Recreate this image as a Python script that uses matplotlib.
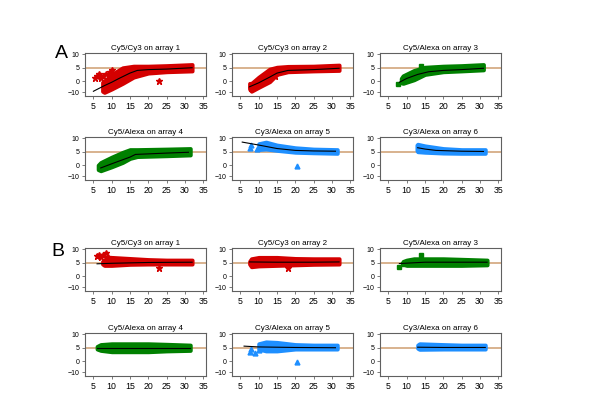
import numpy as np
import matplotlib
matplotlib.use("Agg")
import matplotlib.pyplot as plt

plt.rcParams['font.family'] = ['Liberation Sans', 'DejaVu Sans']

titles = ["Cy5/Cy3 on array 1", "Cy5/Cy3 on array 2", "Cy5/Alexa on array 3",
          "Cy5/Alexa on array 4", "Cy3/Alexa on array 5", "Cy3/Alexa on array 6"]
dye = ["red", "red", "green", "green", "blue", "blue"]
colors = {"red": "#d40000", "green": "#008000", "blue": "#1e8fff"}
markers = {"red": "*", "green": "s", "blue": "^"}

# ---- A: before normalisation ----
# band of points: x, lower edge, upper edge
A_band_x = [
    [7.5, 8, 10, 13, 16, 20, 25, 32],
    [7.5, 8, 10, 13, 15, 18, 25, 32],
    [8.5, 9, 12, 15, 20, 25, 31],
    [6.3, 7, 10, 13, 15, 17, 25, 31.5],
    [10, 12, 15, 20, 25, 31.5],
    [12.8, 13, 15, 20, 25, 31.5],
]
A_band_lo = [
    [-9, -10, -7, -2, 1.5, 3, 3.5, 3.8],
    [-7, -9, -5.5, -0.5, 2.5, 3.5, 3.8, 4],
    [-1.5, -2, 0.5, 2.5, 3.5, 3.8, 4.2],
    [-4, -5, -1.5, 1, 2.5, 3.2, 3.5, 3.8],
    [5.8, 6, 5.5, 4.8, 4.6, 4.4],
    [5.5, 5, 4.8, 4.5, 4.4, 4.4],
]
A_band_hi = [
    [-1, 0, 2.5, 5, 5.6, 5.6, 5.8, 6.2],
    [-2, -2, 1.5, 4.5, 5.2, 5.5, 5.6, 6],
    [1, 2, 4, 5.2, 5.6, 5.8, 6.2],
    [0, 1, 3, 4.8, 5.8, 5.8, 6, 6.2],
    [8, 8.6, 7.5, 6.5, 6, 5.8],
    [7.5, 7.8, 7.2, 6.2, 5.8, 5.8],
]
A_trend_x = [
    [5, 8, 10, 12, 15, 17, 20, 25, 32],
    [7.5, 10, 13, 15, 18, 25, 32],
    [8, 10, 13, 16, 20, 25, 31],
    [7, 10, 13, 15, 16.5, 20, 25, 31],
    [5.5, 10, 15, 20, 25, 31],
    [13, 15, 18, 25, 31],
]
A_trend_y = [
    [-9, -4, -1, 1, 3, 4, 4.3, 4.5, 5],
    [-5, -1.5, 1.5, 3, 4, 4.3, 4.8],
    [-1, 1, 2.5, 3.5, 4, 4.3, 4.8],
    [-2.5, 0.5, 2, 3, 4, 4.2, 4.5, 4.8],
    [8.6, 7.5, 6.2, 5.5, 5.3, 5.2],
    [6.5, 6, 5.5, 5.2, 5.1],
]
A_out_x = [
    [5.5, 6, 6.5, 7, 7.5, 8.5, 9.5, 10, 23],
    [8, 14.5],
    [7.5, 14],
    [],
    [7.5, 8, 9.5, 10, 20.5],
    [],
]
A_out_y = [
    [1, 1.8, 2.5, 1.2, 2, 2.5, 3.5, 4, 0.2],
    [-6, 2],
    [-2.5, 5.5],
    [],
    [6.5, 7.5, 6, 6.8, -1.2],
    [],
]

# ---- B: after normalisation ----
B_band_x = [
    [7.5, 8, 10, 15, 20, 25, 32],
    [7.5, 8, 10, 15, 20, 25, 32],
    [9, 10, 12, 20, 25, 32],
    [6, 7, 10, 20, 25, 31.5],
    [10, 12, 15, 20, 25, 31.5],
    [13, 13.5, 20, 25, 31.5],
]
B_band_lo = [
    [4.5, 4, 4, 4.4, 4.5, 4.5, 4.5],
    [4.5, 3.5, 3.8, 4, 4.2, 4.4, 4.5],
    [4.5, 4, 4, 4, 4, 4.2],
    [4.5, 4, 3.5, 3.5, 3.8, 4],
    [4.5, 3.8, 3.8, 4.5, 4.5, 4.5],
    [4.8, 4.4, 4.5, 4.5, 4.5],
]
B_band_hi = [
    [5.5, 6, 7, 6.6, 6.2, 6, 6],
    [5.5, 6.5, 7, 7, 6.6, 6.5, 6.5],
    [5.5, 6, 6.5, 6.5, 6.3, 6],
    [5.5, 6.2, 6.5, 6.5, 6.3, 6],
    [6.5, 7.2, 7, 6.2, 6, 6],
    [6, 6.5, 6.2, 6, 6],
]
B_trend_x = [
    [6, 10, 20, 32],
    [7.5, 15, 25, 32],
    [8, 15, 25, 32],
    [6, 15, 25, 31.5],
    [6, 10, 20, 31],
    [13, 20, 31.5],
]
B_trend_y = [
    [4.6, 4.8, 5.1, 5.2],
    [5.3, 5.2, 5.2, 5.3],
    [4.7, 5.2, 5.2, 5.2],
    [5, 5, 5, 5],
    [5.6, 5.3, 5.1, 5],
    [5.2, 5.1, 5.1],
]
B_out_x = [
    [6, 6.5, 7, 7.5, 8.5, 9, 23],
    [18],
    [8, 9, 14],
    [],
    [7.5, 8, 9, 10, 20.5],
    [],
]
B_out_y = [
    [7.5, 8, 7.2, 7.8, 8.5, 7, 3],
    [3],
    [3.5, 4.5, 7.8],
    [],
    [3.5, 4.5, 3, 4, -1.2],
    [],
]

# axes boxes in pixels (left, top) on a 600x415 canvas
col_left = [85, 232, 380]
row_top = [53, 137, 248, 333]
box_w, box_h = 121, 43
W, H = 600, 415


def fwd(y):
    y = np.asarray(y, dtype=float)
    return np.where(y >= 0, y, y * 0.42)


def inv(y):
    y = np.asarray(y, dtype=float)
    return np.where(y >= 0, y, y / 0.42)


fig = plt.figure(figsize=(6, 4.15), dpi=100)

groups = [(A_band_x, A_band_lo, A_band_hi, A_trend_x, A_trend_y, A_out_x, A_out_y),
          (B_band_x, B_band_lo, B_band_hi, B_trend_x, B_trend_y, B_out_x, B_out_y)]

for g, (bx, blo, bhi, tx, ty, ox, oy) in enumerate(groups):
    for i in range(6):
        r = g * 2 + i // 3
        c = i % 3
        ax = fig.add_axes([col_left[c] / W, 1 - (row_top[r] + box_h) / H, box_w / W, box_h / H])
        ax.set_yscale('function', functions=(fwd, inv))
        col = colors[dye[i]]
        ax.axhline(5, color='#d2a57c', lw=1.2, zorder=1)
        ax.fill_between(bx[i], blo[i], bhi[i], color=col, lw=2.8, edgecolor=col,
                        joinstyle='round', zorder=2)
        if ox[i]:
            ms = 5 if dye[i] == "red" else 3.5
            ax.plot(ox[i], oy[i], ls='none', marker=markers[dye[i]], color=col, ms=ms, zorder=3)
        ax.plot(tx[i], ty[i], color='black', lw=0.8, zorder=4)
        ax.set_xlim(2.7, 35.8)
        ax.set_ylim(-13.2, 10.5)
        ax.set_xticks([5, 10, 15, 20, 25, 30, 35])
        ax.set_yticks([-10, 0, 5, 10])
        ax.tick_params(axis='x', labelsize=6.3, length=2.5, width=0.6, color='#666666', pad=2)
        ax.tick_params(axis='y', labelsize=5, length=2.5, width=0.6, color='#666666', pad=1.5)
        for s in ax.spines.values():
            s.set_color('#606060')
            s.set_linewidth(0.8)
        ax.set_title(titles[i], fontsize=5.8, pad=2)

fig.text(61 / W, 1 - 53 / H, "A", fontsize=14, ha='center', va='center')
fig.text(57.5 / W, 1 - 251 / H, "B", fontsize=14, ha='center', va='center')

fig.savefig("out.png", dpi=100)
